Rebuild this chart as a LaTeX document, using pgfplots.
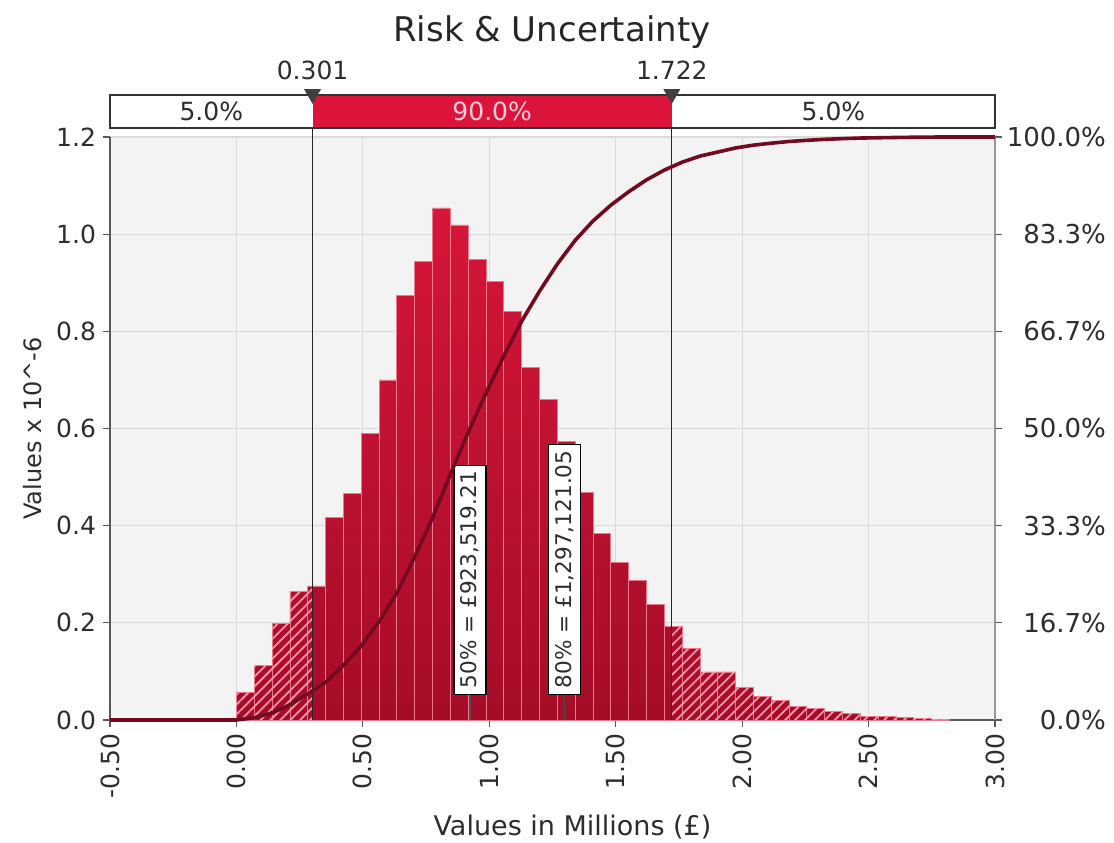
\documentclass[border=0pt]{standalone}
\usepackage{fontspec}
\setmainfont{DejaVu Sans}
\usepackage{pgfplots}
\usepackage{pgfplotstable}
\pgfplotsset{compat=1.18}
\usetikzlibrary{patterns.meta}
\definecolor{bartop}{RGB}{214,22,58}
\definecolor{barbot}{RGB}{165,12,40}
\definecolor{sep}{RGB}{236,120,140}
\definecolor{hatch}{RGB}{245,150,170}
\definecolor{cumred}{RGB}{115,10,32}
\definecolor{boxred}{RGB}{220,20,60}
\definecolor{gridgray}{RGB}{218,218,218}
\definecolor{bggray}{RGB}{243,243,243}
\definecolor{txt}{RGB}{45,45,45}

\pgfplotstableread{
x h
0.0000 0.056
0.0705 0.113
0.1410 0.199
0.2115 0.265
0.2820 0.276
0.3525 0.416
0.4230 0.467
0.4935 0.589
0.5640 0.700
0.6345 0.873
0.7050 0.943
0.7755 1.054
0.8460 1.019
0.9165 0.948
0.9870 0.903
1.0575 0.841
1.1280 0.726
1.1985 0.660
1.2690 0.573
1.3395 0.468
1.4100 0.384
1.4805 0.324
1.5510 0.288
1.6215 0.238
1.6920 0.192
1.7625 0.147
1.8330 0.099
1.9035 0.099
1.9740 0.067
2.0445 0.048
2.1150 0.041
2.1855 0.028
2.2560 0.024
2.3265 0.017
2.3970 0.014
2.4675 0.008
2.5380 0.007
2.6085 0.005
2.6790 0.004
2.7495 0.002
2.8200 0
}\bins

\pgfplotstableread{
x h
0.0000 0.056
0.0705 0.113
0.1410 0.199
0.2115 0.265
0.2820 0.276
0.3010 0
}\lefttail

\pgfplotstableread{
x h
1.7220 0.192
1.7625 0.147
1.8330 0.099
1.9035 0.099
1.9740 0.067
2.0445 0.048
2.1150 0.041
2.1855 0.028
2.2560 0.024
2.3265 0.017
2.3970 0.014
2.4675 0.008
2.5380 0.007
2.6085 0.005
2.6790 0.004
2.7495 0.002
2.8200 0
}\righttail

\pgfplotstableread{
x F
-0.5000 0
0.0000 0
0.0705 0.0040
0.1410 0.0120
0.2115 0.0261
0.2820 0.0448
0.3525 0.0644
0.4230 0.0938
0.4935 0.1269
0.5640 0.1686
0.6345 0.2181
0.7050 0.2799
0.7755 0.3467
0.8460 0.4213
0.9165 0.4935
0.9870 0.5606
1.0575 0.6245
1.1280 0.6840
1.1985 0.7354
1.2690 0.7821
1.3395 0.8227
1.4100 0.8559
1.4805 0.8830
1.5510 0.9060
1.6215 0.9264
1.6920 0.9432
1.7625 0.9568
1.8330 0.9672
1.9035 0.9742
1.9740 0.9812
2.0445 0.9860
2.1150 0.9894
2.1855 0.9923
2.2560 0.9943
2.3265 0.9960
2.3970 0.9972
2.4675 0.9982
2.5380 0.9987
2.6085 0.9992
2.6790 0.9996
2.7495 0.9999
2.8200 1.0000
3.0000 1.0000
}\cum

\begin{document}
\begin{tikzpicture}
\useasboundingbox (-55pt,-61pt) rectangle (502pt,360pt);
\begin{axis}[
  at={(0,0)}, anchor=south west, scale only axis,
  width=442.5pt, height=291.5pt,
  xmin=-0.5, xmax=3.0, ymin=0, ymax=1.2,
  axis background/.style={fill=bggray},
  xtick={-0.5,0,0.5,1,1.5,2,2.5,3},
  xticklabels={-0.50,0.00,0.50,1.00,1.50,2.00,2.50,3.00},
  ytick={0,0.2,0.4,0.6,0.8,1.0,1.2},
  yticklabels={0.0,0.2,0.4,0.6,0.8,1.0,1.2},
  xmajorgrids, ymajorgrids,
  grid style={gridgray, line width=0.6pt},
  axis x line*=bottom, axis y line*=left,
  axis line style={black!65, line width=1pt},
  tick align=outside, major tick length=3.5pt,
  tick style={black!65, line width=0.6pt},
  x tick label style={rotate=90, anchor=east, font=\fontsize{12.5}{14}\selectfont, text=txt},
  y tick label style={font=\fontsize{12.5}{14}\selectfont, text=txt},
  xlabel={Values in Millions (£)},
  ylabel={Values x 10\textasciicircum{}-6},
  every axis x label/.style={at={(rel axis cs:0.5,0)}, xshift=10pt, yshift=-53.5pt, anchor=center, font=\fontsize{13.5}{16}\selectfont, text=txt},
  every axis y label/.style={at={(rel axis cs:0,0.5)}, xshift=-38.5pt, rotate=90, anchor=center, font=\fontsize{12}{14}\selectfont, text=txt},
  clip=false,
]
\addplot[ybar interval, draw=sep, line width=0.4pt, top color=bartop, bottom color=barbot] table[x=x,y=h] {\bins};
\addplot[ybar interval, draw=none, pattern={Lines[angle=45,distance=3.5pt,line width=0.9pt]}, pattern color=hatch] table[x=x,y=h] {\lefttail};
\addplot[ybar interval, draw=none, pattern={Lines[angle=45,distance=3.5pt,line width=0.9pt]}, pattern color=hatch] table[x=x,y=h] {\righttail};
% percentile lines
\draw[black!85, line width=0.6pt] (axis cs:0.301,0) -- (axis cs:0.301,1.2185);
\draw[black!85, line width=0.6pt] (axis cs:1.722,0) -- (axis cs:1.722,1.2185);
% top box
\draw[black!80, line width=0.6pt, fill=white] (axis cs:-0.5,1.2185) rectangle (axis cs:3.0,1.2865);
\fill[boxred] (axis cs:0.301,1.2185) rectangle (axis cs:1.722,1.2865);
\draw[black!80, line width=0.6pt] (axis cs:-0.5,1.2185) rectangle (axis cs:3.0,1.2865);
\node[font=\fontsize{12.5}{14}\selectfont, text=txt] at (axis cs:-0.0995,1.2525) {5.0\%};
\node[font=\fontsize{12.5}{14}\selectfont, text={rgb,255:red,255;green,205;blue,215}] at (axis cs:1.0115,1.2525) {90.0\%};
\node[font=\fontsize{12.5}{14}\selectfont, text=txt] at (axis cs:2.361,1.2525) {5.0\%};
\addplot[only marks, mark=triangle*, mark size=4.5pt, mark options={rotate=180, fill=black!75, draw=black!75}] coordinates {(0.301,1.2885) (1.722,1.2885)};
\node[font=\fontsize{12.5}{14}\selectfont, text=txt] at (axis cs:0.301,1.3379) {0.301};
\node[font=\fontsize{12.5}{14}\selectfont, text=txt] at (axis cs:1.722,1.3379) {1.722};
\node[font=\fontsize{17}{20}\selectfont, text=black!85] at (rel axis cs:0.4994,1.18) {Risk \& Uncertainty};
% percentile annotations
\draw[black!70, line width=0.6pt] (axis cs:0.9235,0) -- (axis cs:0.9235,0.0515);
\draw[black!70, line width=0.6pt] (axis cs:1.297,0) -- (axis cs:1.297,0.0515);
\node[rotate=90, anchor=west, draw=black, line width=0.6pt, fill=white, font=\fontsize{10.8}{12}\selectfont, text=txt, inner sep=3pt, minimum height=16pt] at (axis cs:0.9235,0.0515) {50\% = £923,519.21};
\node[rotate=90, anchor=west, draw=black, line width=0.6pt, fill=white, font=\fontsize{10.8}{12}\selectfont, text=txt, inner sep=3pt, minimum height=16pt] at (axis cs:1.297,0.0515) {80\% = £1,297,121.05};
\end{axis}
\begin{axis}[
  at={(0,0)}, anchor=south west, scale only axis,
  width=442.5pt, height=291.5pt,
  xmin=-0.5, xmax=3.0, ymin=0, ymax=1,
  axis x line=none, axis y line*=right,
  axis line style={gridgray!70!black, line width=0.6pt},
  ytick={0,0.166667,0.333333,0.5,0.666667,0.833333,1},
  yticklabels={0.0\%,16.7\%,33.3\%,50.0\%,66.7\%,83.3\%,100.0\%},
  tick align=outside, major tick length=3.5pt,
  tick style={black!65, line width=0.6pt},
  y tick label style={anchor=east, xshift=55.5pt, font=\fontsize{13}{15}\selectfont, text=txt},
  clip=false,
]
\addplot[cumred, line width=1.8pt] table[x=x,y=F] {\cum};
\end{axis}
\end{tikzpicture}
\end{document}
